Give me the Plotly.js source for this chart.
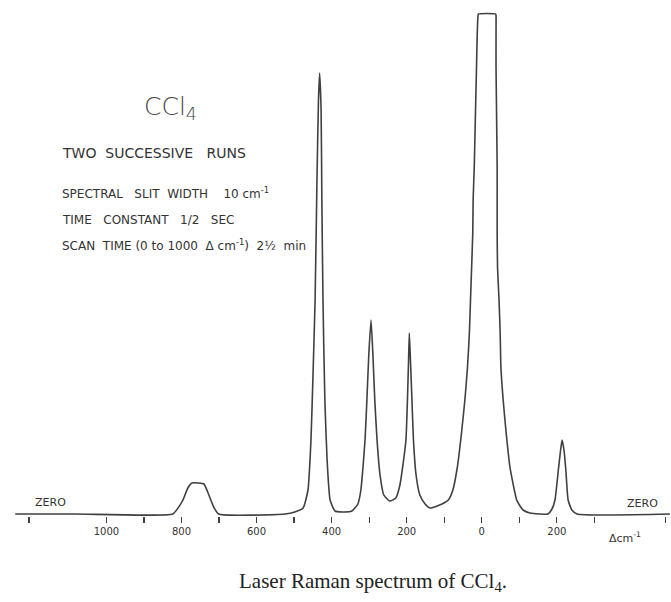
<!DOCTYPE html>
<html>
<head>
<meta charset="utf-8">
<script src="https://cdn.plot.ly/plotly-3.0.1.min.js"></script>
<style>html,body{margin:0;padding:0;background:#fff;}#chart{width:671px;height:602px;}</style>
</head>
<body>
<div id="chart"></div>
<script>
// Raman shift (cm^-1; negative = anti-Stokes side) and recorder intensity (0 = zero line, 100 = off-scale clip)
const shift = [1243, 1083, 823, 809, 796, 783, 772, 756, 740, 727, 714, 701,
  524, 498, 476, 463, 455, 450, 444, 439, 435, 432, 428, 426, 423, 418, 412, 404, 391, 372,
  346, 330, 322, 317, 311, 306, 301, 295, 290, 285, 279, 271, 261, 245,
  229, 218, 210, 202, 198, 195, 193, 190, 186, 182, 175, 165, 151, 138, 122, 106,
  89, 77, 65, 54, 45, 38, 33, 30, 27, 24, 23, 20, 18, 16, 14, 12, 10, 9,
  -37, -38, -38, -38, -39, -40, -41, -41, -41, -42, -46, -49, -51, -57, -65, -75, -93,
  -102, -110, -128, -155, -176, -187, -195, -204, -210, -214, -219, -224, -230, -240, -254, -501];
const intensity = [0, 0, 0, 1.2, 2.8, 5.2, 6.2, 6.2, 6.0, 3.8, 1.4, 0,
  0, 0.4, 1.2, 4.8, 14.8, 26.8, 42.8, 66.8, 82.8, 88.2, 80.8, 62.8, 42.8, 22.8, 10.8, 2.8, 0.6, 0.4,
  0.6, 2.0, 4.8, 8.8, 14.8, 22.8, 31.8, 38.8, 31.8, 22.8, 14.8, 7.8, 3.8, 2.6,
  3.2, 5.8, 9.8, 14.8, 22.8, 30.8, 36.2, 30.8, 22.8, 14.8, 7.8, 3.8, 2.0, 1.2, 1.5, 2.0,
  2.8, 4.8, 9.4, 16.2, 22.8, 29.4, 36.2, 42.8, 49.4, 56.2, 62.8, 69.4, 76.2, 82.8, 89.4, 96.2, 99.6, 100,
  100, 99.6, 96.2, 89.4, 82.8, 76.2, 69.4, 62.8, 56.2, 49.4, 42.8, 36.2, 29.4, 22.8, 16.2, 9.4, 2.8,
  1.6, 0.8, 0.2, 0, 0, 1.0, 2.8, 8.8, 12.8, 14.8, 12.8, 8.8, 2.8, 0.8, 0, 0];
const tickVals = [1000, 800, 600, 400, 200, 0, -200];
const tickText = ["1000", "800", "600", "400", "200", "0", "200"];
const minorVals = [1206, 900, 700, 500, 300, 100, -100, -300, -490];

const ink = '#404040';
const trace = {
  x: shift, y: intensity, type: 'scatter', mode: 'lines',
  line: {color: ink, width: 1.6, shape: 'spline', smoothing: 0.5},
  hoverinfo: 'skip'
};
const H = 602, plotTop = 11, plotBot = 516;
const py = p => (plotBot - p) / (plotBot - plotTop);
const px = p => p / 671;
const lab = {family: 'DejaVu Sans, sans-serif', color: '#333'};
function note(text, x, y, size, anchor) {
  return {text: text, xref: 'paper', yref: 'paper', x: px(x), y: py(y),
    xanchor: anchor || 'left', yanchor: 'middle', showarrow: false,
    font: Object.assign({size: size}, lab)};
}
const layout = {
  width: 671, height: 602,
  margin: {l: 0, r: 0, t: plotTop, b: H - plotBot, pad: 0},
  paper_bgcolor: '#ffffff', plot_bgcolor: '#ffffff',
  showlegend: false,
  xaxis: {range: [1283.4, -504.1], showgrid: false, zeroline: false, showline: false,
    tickmode: 'array', tickvals: tickVals, ticktext: tickText,
    ticks: 'outside', ticklen: 6, tickwidth: 1.2, tickcolor: ink,
    minor: {tickmode: 'array', tickvals: minorVals, ticks: 'outside', ticklen: 6, tickwidth: 1.2, tickcolor: ink, showgrid: false},
    tickfont: {family: 'DejaVu Sans, sans-serif', size: 10, color: '#333'}},
  yaxis: {range: [-0.4, 100.6], showgrid: false, showticklabels: false, ticks: '',
    zeroline: false, showline: false},
  annotations: [
    {text: 'CCl<sub>4</sub>', xref: 'paper', yref: 'paper', x: px(142), y: py(108),
      xanchor: 'left', yanchor: 'middle', showarrow: false,
      font: {family: 'DejaVu Sans, sans-serif', size: 25, color: '#444', weight: 300}},
    note('TWO  SUCCESSIVE   RUNS', 60, 153, 14),
    note('SPECTRAL   SLIT  WIDTH    10 cm<sup>-1</sup>', 60, 193, 12),
    note('TIME   CONSTANT   1/2   SEC', 60, 220, 12),
    note('SCAN  TIME (0 to 1000  Δ cm<sup>-1</sup>)  2½  min', 60, 245, 12),
    note('ZERO', 33, 502, 11),
    note('ZERO', 625, 503, 11),
    note('Δcm<sup>-1</sup>', 607, 537, 11),
    {text: 'Laser Raman spectrum of CCl<sub>4</sub>.', xref: 'paper', yref: 'paper',
      x: px(237), y: py(582), xanchor: 'left', yanchor: 'middle', showarrow: false,
      font: {family: 'Liberation Serif, serif', size: 21, color: '#222'}}
  ]
};
Plotly.newPlot('chart', [trace], layout, {staticPlot: true, displayModeBar: false});
</script>
</body>
</html>
